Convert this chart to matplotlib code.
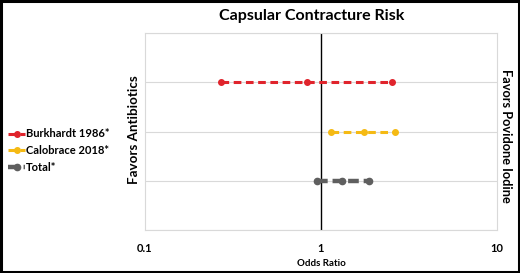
import matplotlib
matplotlib.use("Agg")
import matplotlib.pyplot as plt
from matplotlib.patches import Rectangle

plt.rcParams['font.family'] = ['Lato', 'DejaVu Sans']

studies = ["Burkhardt 1986*", "Calobrace 2018*", "Total*"]
lower = [0.27, 1.135, 0.945]
estimate = [0.83, 1.75, 1.31]
upper = [2.54, 2.64, 1.87]
rows = [3, 2, 1]
colors = ["#E0242C", "#F5BA14", "#5F5F5F"]
xticks = [0.1, 1, 10]
xticklabels = ["0.1", "1", "10"]

fig = plt.figure(figsize=(5.2, 2.73), dpi=100)
ax = fig.add_axes([145/520, 1-230/273, (497-145)/520, (230-33)/273])

for i, name in enumerate(studies):
    y = rows[i]
    xs = [lower[i], estimate[i], upper[i]]
    if i == 2:
        ax.plot(xs, [y]*3, color=colors[i], lw=3.2, ls=(0, (2.4, 1.1)),
                marker='o', ms=4.5, label=name)
    else:
        ax.plot(xs, [y]*3, color=colors[i], lw=2.2, ls=(0, (2.5, 1.5)),
                marker='o', ms=4, label=name)

ax.axvline(1, color='black', lw=1, zorder=1)
ax.set_xscale('log')
ax.set_xlim(0.1, 10)
ax.set_ylim(0, 4)
ax.set_yticks([0, 1, 2, 3, 4])
ax.set_yticklabels([])
ax.tick_params(axis='y', length=0)
ax.grid(axis='y', color='#D9D9D9', lw=0.8)
ax.set_axisbelow(True)
ax.set_xticks(xticks)
ax.set_xticklabels(xticklabels, fontsize=8, fontweight='bold')
ax.minorticks_off()
ax.tick_params(axis='x', length=0, pad=9)
for s in ax.spines.values():
    s.set_color('#D9D9D9')
    s.set_linewidth(0.8)

ax.set_xlabel("Odds Ratio", fontsize=7, fontweight='bold', labelpad=4)

fig.text(134/520, 1-130/273, "Favors Antibiotics", rotation=90, fontsize=9.6,
         fontweight='bold', ha='center', va='center')
fig.text(506/520, 1-135.5/273, "Favors Povidone Iodine", rotation=-90, fontsize=9.2,
         fontweight='bold', ha='center', va='center')
fig.text(312/520, 1-16/273, "Capsular Contracture Risk", fontsize=11.5,
         fontweight='bold', ha='center', va='center')

handles, labels = ax.get_legend_handles_labels()
fig.legend(handles, labels, loc='upper left', bbox_to_anchor=(4/520, 1-124/273),
           frameon=False, prop={'weight': 'bold', 'size': 8},
           handlelength=1.5, handletextpad=0.1, labelspacing=0.5, borderaxespad=0)

fig.patches.append(Rectangle((0.002, 0.003), 0.996, 0.994, transform=fig.transFigure,
                             fill=False, edgecolor='black', lw=2.2))

fig.savefig("out.png", dpi=100)
